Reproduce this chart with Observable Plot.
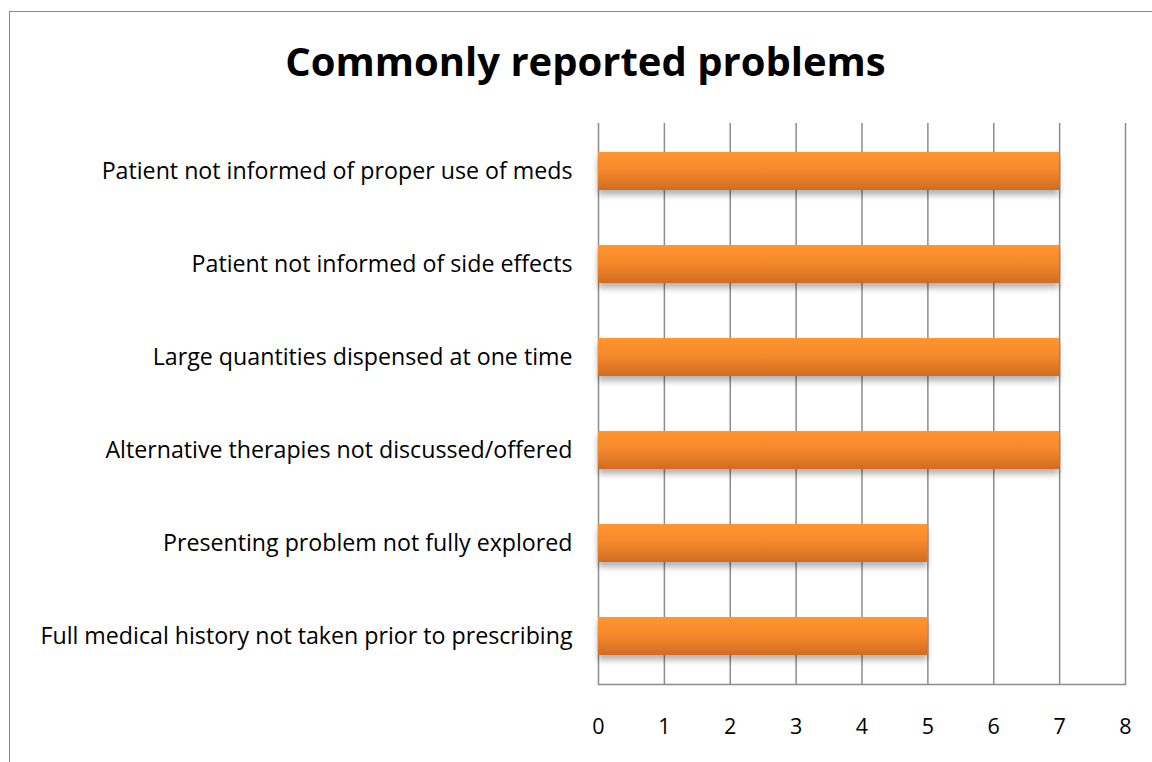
<!DOCTYPE html>
<html>
<head>
<meta charset="utf-8">
<script src="https://cdn.jsdelivr.net/npm/d3@7"></script>
<script src="https://cdn.jsdelivr.net/npm/@observablehq/plot@0.6"></script>
<style>
  html, body { margin: 0; padding: 0; background: #fff; }
  #wrap { position: relative; width: 1152px; height: 762px; overflow: hidden; }
  #border { position: absolute; left: 9px; top: 11px; width: 1200px; height: 800px; border: 1px solid #8a8a8a; box-sizing: border-box; }
  #title { position: absolute; left: 0; top: 33px; width: 1171px; text-align: center; font-family: "Open Sans", sans-serif; font-weight: bold; font-size: 40px; line-height: normal; color: #000; }
  #chart { position: absolute; left: 0; top: 0; }
</style>
</head>
<body>
<div id="wrap">
  <div id="border"></div>
  <div id="title">Commonly reported problems</div>
  <div id="chart"></div>
</div>
<script>
const categories = [
  "Patient not informed of proper use of meds",
  "Patient not informed of side effects",
  "Large quantities dispensed at one time",
  "Alternative therapies not discussed/offered",
  "Presenting problem not fully explored",
  "Full medical history not taken prior to prescribing"
];
const counts = [7, 7, 7, 7, 5, 5];
const xTicks = [0, 1, 2, 3, 4, 5, 6, 7, 8];

const data = categories.map((c, i) => ({category: c, value: counts[i]}));

const chart = Plot.plot({
  width: 1152,
  height: 762,
  marginLeft: 598,
  marginRight: 27,
  marginTop: 123,
  marginBottom: 78,
  style: {fontFamily: "'Open Sans', sans-serif", fontSize: "21px", color: "#000", background: "transparent"},
  x: {domain: [0, 8], ticks: xTicks, label: null},
  y: {domain: categories, label: null, paddingInner: 0.59, paddingOuter: 0.295},
  marks: [
    Plot.gridX(xTicks, {stroke: "#8c8c8c", strokeOpacity: 1, strokeWidth: 1.5}),
    Plot.frame({anchor: "bottom", stroke: "#8c8c8c", strokeWidth: 1.5}),
    Plot.barX(data, {x: "value", y: "category", fill: "url(#barGrad)"}),
    Plot.axisX({ticks: xTicks, tickSize: 0, tickPadding: 34, fontSize: 21.5, label: null}),
    Plot.axisY({tickSize: 0, tickPadding: 26, fontSize: 23.2, label: null})
  ]
});

const svg = d3.select(chart);
const defs = svg.insert("defs", ":first-child");
const g = defs.append("linearGradient").attr("id", "barGrad").attr("x1", 0).attr("y1", 0).attr("x2", 0).attr("y2", 1);
g.append("stop").attr("offset", "0%").attr("stop-color", "#ff9530");
g.append("stop").attr("offset", "45%").attr("stop-color", "#f68a2c");
g.append("stop").attr("offset", "100%").attr("stop-color", "#d16c22");
const f = defs.append("filter").attr("id", "shadow").attr("x", "-5%").attr("y", "-20%").attr("width", "110%").attr("height", "160%");
f.append("feDropShadow").attr("dx", 0).attr("dy", 5).attr("stdDeviation", 3).attr("flood-color", "#000").attr("flood-opacity", 0.3);
svg.selectAll("rect").filter(function() { return d3.select(this).attr("fill") === "url(#barGrad)" || this.parentNode.getAttribute("fill") === "url(#barGrad)"; }).attr("filter", "url(#shadow)");

document.getElementById("chart").appendChild(chart);
</script>
</body>
</html>
